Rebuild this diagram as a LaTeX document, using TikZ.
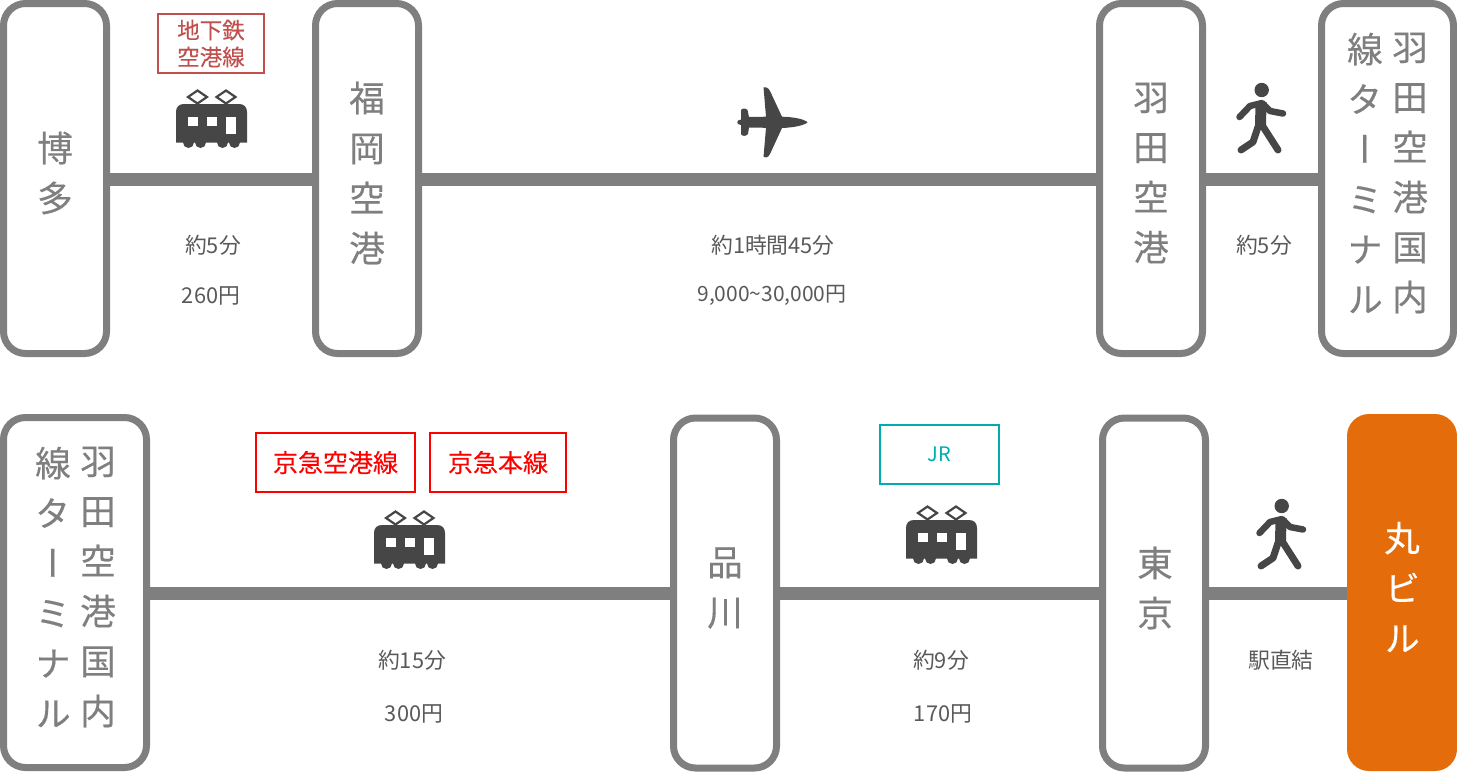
\documentclass[tikz,border=0pt]{standalone}
\usepackage{fontspec}
\setmainfont{Noto Sans CJK JP}
\newfontfamily\vfont[RawFeature={+vert},FakeBold=0.35]{Noto Sans CJK JP}
\newfontfamily\tagfont[FakeBold=0.25]{Noto Sans CJK JP}
\definecolor{railgray}{HTML}{7F7F7F}
\definecolor{icongray}{HTML}{464646}
\definecolor{textgray}{HTML}{595959}
\definecolor{subred}{HTML}{C0504D}
\definecolor{jrteal}{HTML}{00ACB0}
\definecolor{goalorange}{HTML}{E46C0A}
\tikzset{
  stationbox/.style={draw=railgray,line width=7pt,rounded corners=22pt,minimum height=350pt,inner sep=0pt},
  goalbox/.style={fill=goalorange,rounded corners=22pt,minimum width=110pt,minimum height=357pt,inner sep=0pt},
  stationtext/.style={text=railgray,align=center,inner sep=0pt,font=\vfont\fontsize{35.5}{50}\selectfont},
  rail/.style={draw=railgray,line width=13pt},
  fare/.style={text=textgray,inner sep=0pt,font=\fontsize{21.8}{26}\selectfont},
  tagbox/.style={draw=#1,text=#1,line width=2pt,inner sep=0pt,align=center,font=\tagfont\fontsize{25}{30}\selectfont},
  pics/traincar/.style={code={
    \fill[icongray] (176,142.5) -- (176,112) .. controls (176,107) and (179,104) .. (184,104) -- (239,104) .. controls (244,104) and (247,107) .. (247,112) -- (247,142.5) -- cycle;
    \foreach \wx in {188.5,200.5,222.5,234.5} \fill[icongray] (\wx,142.5) circle (5.5);
    \draw[icongray,line width=2.2pt] (197.5,90.5) -- (207,97) -- (197.5,103.5) -- (188,97) -- cycle;
    \draw[icongray,line width=2.2pt] (226,90.5) -- (235.5,97) -- (226,103.5) -- (216.5,97) -- cycle;
    \fill[white] (188,117) rectangle (198,126);
    \fill[white] (207,117) rectangle (217,126);
    \fill[white] (226,117) rectangle (235.5,134);
  }},
  pics/walker/.style={code={
    \fill[icongray] (1261.7,90) circle (7.2);
    \draw[icongray,line width=6.5pt,line cap=round,line join=round] (1239.5,117) -- (1250,106) -- (1262,103) -- (1270,111) -- (1283,113.5);
    \draw[icongray,line width=11pt,line join=round] (1261,102) -- (1260.5,127);
    \draw[icongray,line width=7pt,line cap=round,line join=round] (1259,124) -- (1253,142) -- (1241,150);
    \draw[icongray,line width=7pt,line cap=round,line join=round] (1262,125) -- (1278,150);
  }},
}
\begin{document}
\begin{tikzpicture}[x=1pt,y=-1pt]
\useasboundingbox (0,0) rectangle (1457,772);
% top row boxes
\node[stationbox,minimum width=103pt] (hakata) at (55,178.5) {};
\node[stationbox,minimum width=103pt] (fukuoka) at (367,178.5) {};
\node[stationbox,minimum width=103pt] (haneda) at (1151,178.5) {};
\node[stationbox,minimum width=132pt] (termA) at (1387.5,178.5) {};
% bottom row boxes
\node[stationbox,minimum width=143pt] (termB) at (75,592.5) {};
\node[stationbox,minimum width=103pt] (shinagawa) at (725,593) {};
\node[stationbox,minimum width=103pt] (tokyo) at (1154,593) {};
\node[goalbox] (maru) at (1402,592.5) {};
% rails
\draw[rail] ([yshift=-1pt]hakata.east) -- ([yshift=-1pt]fukuoka.west);
\draw[rail] ([yshift=-1pt]fukuoka.east) -- ([yshift=-1pt]haneda.west);
\draw[rail] ([yshift=-1pt]haneda.east) -- ([yshift=-1pt]termA.west);
\draw[rail] ([yshift=-0.5pt]termB.east) -- (shinagawa.west);
\draw[rail] (shinagawa.east) -- (tokyo.west);
\draw[rail] (tokyo.east) -- (maru.west|-tokyo.east);
% station names
\node[stationtext] (hakataT) at (55,173) {博\\多};
\node[stationtext] (fukuokaT) at (367,173) {福\\岡\\空\\港};
\node[stationtext] (hanedaT) at (1151,173) {羽\\田\\空\\港};
\node[stationtext] (termAr) at (1410,173) {羽\\田\\空\\港\\国\\内};
\node[stationtext] (termAl) at (1365,173) {線\\タ\\ー\\ミ\\ナ\\ル};
\node[stationtext] (termBr) at (98,587) {羽\\田\\空\\港\\国\\内};
\node[stationtext] (termBl) at (53,587) {線\\タ\\ー\\ミ\\ナ\\ル};
\node[stationtext] (shinagawaT) at (725,588) {品\\川};
\node[stationtext] (tokyoT) at (1155,588) {東\\京};
\node[stationtext,text=white] (maruT) at (1402,587) {丸\\ビ\\ル};
% tags
\node[tagbox=subred,minimum width=106pt,minimum height=59pt,font=\tagfont\fontsize{22.5}{27}\selectfont] (tagA) at (211,43.5) {地下鉄\\空港線};
\node[tagbox=red,minimum width=159pt,minimum height=59pt] (tagB) at (335.5,462.5) {京急空港線};
\node[tagbox=red,minimum width=136pt,minimum height=59pt] (tagC) at (498,462.5) {京急本線};
\node[tagbox=jrteal,minimum width=119pt,minimum height=59pt,font=\fontsize{20}{24}\selectfont] (tagD) at (939.5,454.5) {JR};
% icons
\pic at (0,0) {traincar};
\pic at (198,421) {traincar};
\pic at (730,416) {traincar};
\pic at (0,0) {walker};
\pic at (20,416) {walker};
\fill[icongray] (807.5,122.3) .. controls (805,119.5) and (795,117) .. (782,116.7)
  -- (770,91) .. controls (768,87) and (765,87) .. (763.5,87.2)
  -- (766,116.7) -- (749,117) -- (747.5,110) .. controls (746,108) and (742,108) .. (741,110)
  -- (741,119.5) -- (738,120.5) .. controls (737,122) and (737,123) .. (738,124)
  -- (741,125) -- (741,134) .. controls (742,136.5) and (746,136.5) .. (748,134)
  -- (749,127.5) -- (766,127.8) -- (763.5,157) .. controls (765,158) and (768,158) .. (770,154)
  -- (782,128) .. controls (795,127.5) and (805,125) .. (807.5,122.3) -- cycle;
% fares
\node[fare] (t1) at (213,245.5) {約5分};
\node[fare] (f1) at (211,295.5) {260円};
\node[fare] (t2) at (773,245.5) {約1時間45分};
\node[fare,font=\fontsize{21}{26}\selectfont] (f2) at (772,295.5) {9,000\char`\~30,000円};
\node[fare] (t3) at (1264,245.5) {約5分};
\node[fare] (t4) at (412,660.5) {約15分};
\node[fare] (f4) at (414,713.5) {300円};
\node[fare] (t5) at (941,660.5) {約9分};
\node[fare] (f5) at (943,713.5) {170円};
\node[fare] (t6) at (1281,660.5) {駅直結};
\end{tikzpicture}
\end{document}
